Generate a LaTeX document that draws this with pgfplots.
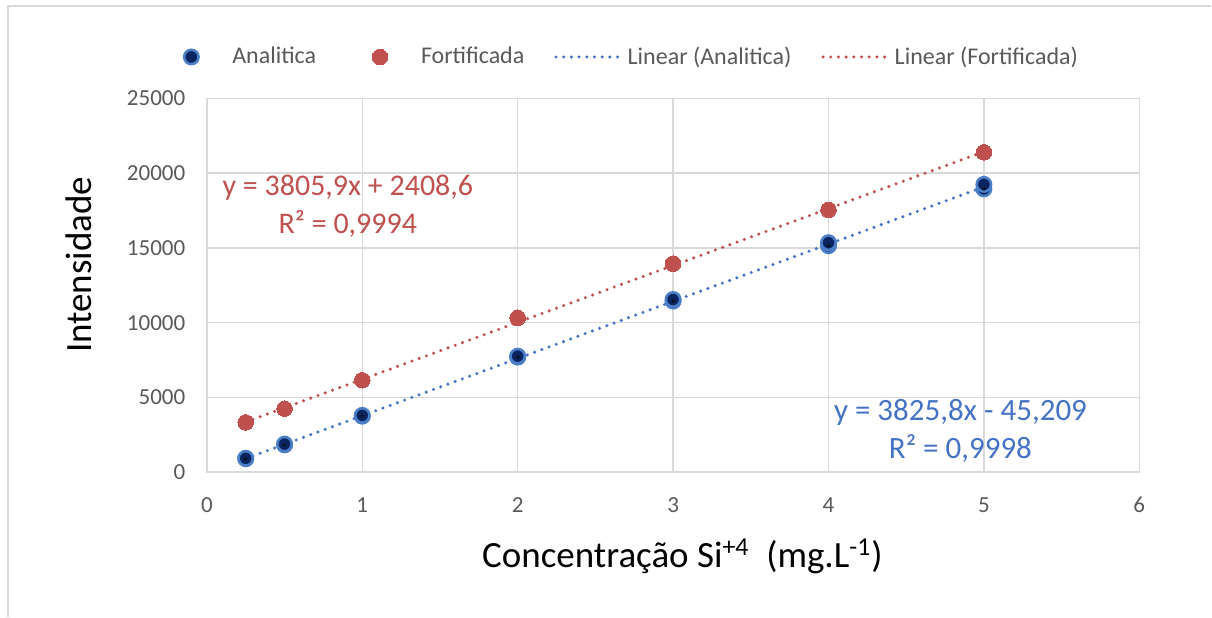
\documentclass[border=0pt]{standalone}
\usepackage{fontspec}
\setmainfont{Carlito}
\usepackage{pgfplots}
\pgfplotsset{compat=1.18}

\definecolor{tickgray}{HTML}{595959}
\definecolor{gridgray}{HTML}{D9D9D9}
\definecolor{navy}{HTML}{0A2462}
\definecolor{ringblue}{HTML}{4A7EC7}
\definecolor{lineblue}{HTML}{4472C4}
\definecolor{redc}{HTML}{C0504D}

\pgfplotsset{
  markleg/.style={legend image code/.code={%
    \path[draw=none] (0pt,0pt) -- (21pt,0pt); \draw[##1] plot coordinates {(4pt,0pt)};}},
  lineleg/.style={legend image code/.code={%
    \draw[##1] (0pt,0pt) -- (34pt,0pt);}},
  trend/.style={line width=1.7pt, line cap=round, dash pattern=on 0pt off 3.85pt},
}

\begin{document}
\begin{tikzpicture}
\begin{axis}[
  scale only axis,
  width=466.5pt, height=187pt,
  xmin=0, xmax=6, ymin=0, ymax=25000,
  xtick={0,1,2,3,4,5,6},
  ytick={0,5000,10000,15000,20000,25000},
  major tick length=0pt,
  grid=major,
  grid style={draw=gridgray, line width=0.75pt},
  axis line style={draw=gridgray, line width=0.75pt},
  tick label style={font=\fontsize{11.5}{13}\selectfont, text=tickgray},
  xticklabel style={yshift=-9pt},
  yticklabel style={xshift=-7.3pt},
  /pgf/number format/assume math mode=true,
  /pgf/number format/1000 sep={},
  scaled y ticks=false,
  xlabel={Concentração Si\textsuperscript{+4}\ \ (mg.L\textsuperscript{-1})},
  ylabel={Intensidade},
  label style={font=\fontsize{18.5}{22}\selectfont, text=black},
  xlabel style={at={(axis description cs:0.510,-0.2246)}, anchor=center},
  ylabel style={at={(axis description cs:-0.1372,0.555)}, anchor=center},
  legend columns=4,
  legend style={draw=none, fill=none, inner sep=0pt,
    at={(axis description cs:0.4545,1.111)}, anchor=center,
    font=\fontsize{12}{14}\selectfont, text=tickgray,
    nodes={inner sep=0pt},
    /tikz/every odd column/.append style={column sep=3.5pt},
    /tikz/every even column/.append style={column sep=15pt}},
]
\coordinate (sw) at (rel axis cs:0,0);

% trend lines (Excel linear fits)
\addplot[trend, lineblue, forget plot] coordinates {(0.25,911) (5,19084)};
\addplot[trend, redc, forget plot] coordinates {(0.25,3360) (5,21438)};

% Analitica
\addplot[only marks, mark=*, mark size=3.6pt, markleg,
  mark options={fill=navy, draw=ringblue, line width=1.3pt}]
  coordinates {
  (0.25,900) (0.25,930) (0.5,1830) (0.5,1880) (1,3750) (1,3800)
  (2,7700) (2,7760) (3,11450) (3,11550) (4,15150) (4,15350)
  (5,18950) (5,19250)
};
\addlegendentry{Analitica\rule{13pt}{0pt}}
\addplot[only marks, mark=*, mark size=0.6pt, forget plot,
  mark options={fill=ringblue!70!white, draw=none}]
  coordinates {
  (0.25,900) (0.5,1830) (1,3750) (2,7700) (3,11450) (4,15150) (5,18950)
};

% Fortificada
\addplot[only marks, mark=*, mark size=3.9pt, markleg,
  mark options={fill=redc, draw=redc, line width=0pt}]
  coordinates {
  (0.25,3330) (0.5,4250) (1,6150) (2,10330) (3,13950) (4,17550) (5,21400)
};
\addlegendentry{Fortificada}

\addlegendimage{trend, lineblue, lineleg}
\addlegendentry{\hspace*{-2.5pt}Linear (Analitica)}
\addlegendimage{trend, redc, lineleg}
\addlegendentry{\hspace*{-2.5pt}Linear (Fortificada)}

\node[text=redc, font=\fontsize{15}{19}\selectfont, align=center]
  at (axis cs:0.907,17814) {y = 3805,9x + 2408,6\\R² = 0,9994};
\node[text=lineblue, font=\fontsize{15.5}{19}\selectfont, align=center]
  at (axis cs:4.849,2774) {y = 3825,8x - 45,209\\R² = 0,9998};
\end{axis}

\draw[gridgray, line width=0.75pt]
  ([shift={(-99.5pt,-72.25pt)}]sw) |- ([shift={(502.5pt,233.25pt)}]sw);
\path[use as bounding box]
  ([shift={(-103.5pt,-72.25pt)}]sw) rectangle ++(606pt,308.5pt);
\end{tikzpicture}
\end{document}
